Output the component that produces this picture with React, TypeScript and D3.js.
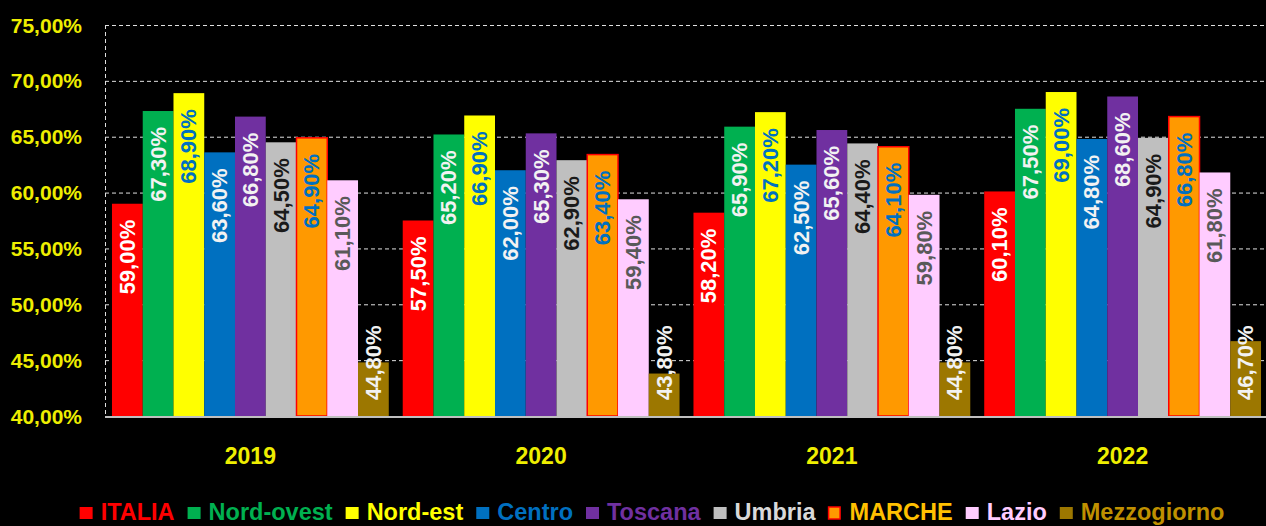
import React, { useEffect, useRef } from "react";
import * as d3 from "d3";

const years = ["2019", "2020", "2021", "2022"];
const seriesNames = ["ITALIA", "Nord-ovest", "Nord-est", "Centro", "Toscana", "Umbria", "MARCHE", "Lazio", "Mezzogiorno"];
const italia = [59.0, 57.5, 58.2, 60.1];
const nordOvest = [67.3, 65.2, 65.9, 67.5];
const nordEst = [68.9, 66.9, 67.2, 69.0];
const centro = [63.6, 62.0, 62.5, 64.8];
const toscana = [66.8, 65.3, 65.6, 68.6];
const umbria = [64.5, 62.9, 64.4, 64.9];
const marche = [64.9, 63.4, 64.1, 66.8];
const lazio = [61.1, 59.4, 59.8, 61.8];
const mezzogiorno = [44.8, 43.8, 44.8, 46.7];
const seriesValues = [italia, nordOvest, nordEst, centro, toscana, umbria, marche, lazio, mezzogiorno];
const yTicks = [40, 45, 50, 55, 60, 65, 70, 75];

const barFill = ["#FF0000", "#00B050", "#FFFF00", "#0070C0", "#7030A0", "#BFBFBF", "#FF9900", "#FFCCFF", "#9C7700"];
const barStroke = [null, null, null, null, null, null, "#FF0000", null, null];
const labelFill = ["#FFFFFF", "#F2F2F2", "#0070C0", "#F2F2F2", "#F2F2F2", "#1A1A1A", "#0070C0", "#595959", "#F2F2F2"];
const legendText = ["#FF0000", "#00B050", "#FFFF00", "#0070C0", "#7030A0", "#D9D9D9", "#FFC000", "#FFCCFF", "#BF9000"];

const W = 1266;
const H = 526;
const FONT = "'Liberation Sans', Arial, sans-serif";

export default function App() {
  const ref = useRef<SVGSVGElement>(null);

  useEffect(() => {
    const svg = d3.select(ref.current);
    svg.selectAll("*").remove();

    const left = 105, right = 1268, top = 25, bottom = 416;
    const x = d3.scaleBand<string>().domain(years).range([left, right]).paddingInner(0.048).paddingOuter(0.024);
    const xi = d3.scaleBand<number>().domain(d3.range(seriesNames.length)).range([0, x.bandwidth()]).padding(0);
    const y = d3.scaleLinear().domain([40, 75]).range([bottom, top]);

    svg.append("rect").attr("width", W).attr("height", H).attr("fill", "#000");

    // gridlines
    svg.append("g").selectAll("line").data(yTicks.filter(t => t > 40)).join("line")
      .attr("x1", left).attr("x2", right)
      .attr("y1", d => y(d) + 0.5).attr("y2", d => y(d) + 0.5)
      .attr("stroke", "#E0E0E0").attr("stroke-width", 1).attr("stroke-dasharray", "4,3");
    svg.append("line").attr("x1", left + 0.5).attr("x2", left + 0.5).attr("y1", top).attr("y2", bottom)
      .attr("stroke", "#E0E0E0").attr("stroke-width", 1).attr("stroke-dasharray", "4,3");

    // y labels
    svg.append("g").selectAll("text").data(yTicks).join("text")
      .attr("x", 82).attr("y", d => y(d)).attr("text-anchor", "end").attr("dominant-baseline", "central")
      .attr("font-family", FONT).attr("font-weight", "bold").attr("font-size", 21).attr("fill", "#EEEE00")
      .text(d => d.toFixed(2).replace(".", ",") + "%");

    // bars
    const groups = svg.append("g").selectAll("g").data(years).join("g")
      .attr("transform", d => `translate(${x(d)},0)`);
    groups.each(function (yr, yi) {
      const g = d3.select(this);
      seriesNames.forEach((name, si) => {
        const v = seriesValues[si][yi];
        const bx = xi(si)!;
        const bw = xi.bandwidth();
        g.append("rect")
          .attr("x", bx).attr("y", y(v)).attr("width", bw).attr("height", bottom - y(v))
          .attr("fill", barFill[si])
          .attr("stroke", barStroke[si] ?? "none").attr("stroke-width", barStroke[si] ? 1.5 : 0);
      });
    });

    // bottom axis
    svg.append("line").attr("x1", left).attr("x2", right).attr("y1", bottom + 1).attr("y2", bottom + 1)
      .attr("stroke", "#BFBFBF").attr("stroke-width", 2);

    // labels
    groups.each(function (yr, yi) {
      const g = d3.select(this);
      seriesNames.forEach((name, si) => {
        const v = seriesValues[si][yi];
        const cx = xi(si)! + xi.bandwidth() / 2;
        const isBase = si === seriesNames.length - 1;
        const ay = isBase ? bottom - 16 : y(v) + 16;
        g.append("text")
          .attr("transform", `translate(${cx},${ay}) rotate(-90)`)
          .attr("text-anchor", isBase ? "start" : "end")
          .attr("dominant-baseline", "central")
          .attr("font-family", FONT).attr("font-weight", "bold").attr("font-size", 22)
          .attr("fill", labelFill[si])
          .text(v.toFixed(2).replace(".", ",") + "%");
      });
    });

    // year labels
    svg.append("g").selectAll("text").data(years).join("text")
      .attr("x", d => x(d)! + x.bandwidth() / 2).attr("y", 464).attr("text-anchor", "middle")
      .attr("font-family", FONT).attr("font-weight", "bold").attr("font-size", 23).attr("fill", "#EEEE00")
      .text(d => d);

    // legend
    const leg = svg.append("g");
    const sq = 13, gap1 = 8, gap2 = 13;
    let cur = 0;
    seriesNames.forEach((name, si) => {
      leg.append("rect").attr("x", cur).attr("y", 507).attr("width", sq - (barStroke[si] ? 1.5 : 0)).attr("height", 12)
        .attr("fill", barFill[si])
        .attr("stroke", barStroke[si] ?? "none").attr("stroke-width", barStroke[si] ? 1.5 : 0);
      const t = leg.append("text").attr("x", cur + sq + gap1).attr("y", 520)
        .attr("font-family", FONT).attr("font-weight", "bold").attr("font-size", 23.5)
        .attr("fill", legendText[si]).text(name);
      const w = (t.node() as SVGTextElement).getComputedTextLength();
      cur += sq + gap1 + w + gap2;
    });
    const total = cur - gap2;
    leg.attr("transform", `translate(${652 - total / 2},0)`);
  }, []);

  return (
    <svg ref={ref} width={W} height={H} style={{ position: "absolute", left: 0, top: 0, display: "block" }} />
  );
}
